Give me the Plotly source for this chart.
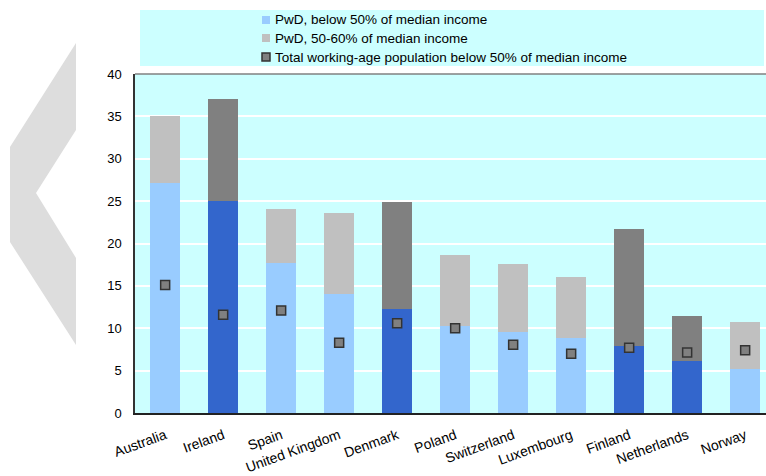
import plotly.graph_objects as go

# Poverty rates (%) of people with disability (PwD) and of the working-age population
countries = ["Australia", "Ireland", "Spain", "United Kingdom", "Denmark", "Poland",
             "Switzerland", "Luxembourg", "Finland", "Netherlands", "Norway"]
pwd_below_50 = [27.1, 25.0, 17.7, 14.0, 12.3, 10.3, 9.5, 8.9, 7.9, 6.1, 5.2]
pwd_50_60 = [7.9, 12.0, 6.4, 9.6, 12.6, 8.4, 8.1, 7.1, 13.8, 5.4, 5.5]
total_below_50 = [15.1, 11.6, 12.1, 8.3, 10.6, 10.0, 8.05, 7.0, 7.7, 7.15, 7.4]
highlighted = ["Ireland", "Denmark", "Finland", "Netherlands"]

LIGHT_BLUE, DARK_BLUE = "#99CCFF", "#3366CC"
LIGHT_GREY, DARK_GREY = "#C0C0C0", "#808080"
CYAN = "#CCFFFF"
FONT = "Liberation Sans, Arial, sans-serif"

W, H = 766, 476
L, R, T, B = 135, 0, 74, 63
PW, PH = W - L - R, H - T - B
SLOT = 58  # pixel width of one category slot


def px(x):
    return (x - L) / PW


def py(y):
    return (H - B - y) / PH


blue_colors = [DARK_BLUE if c in highlighted else LIGHT_BLUE for c in countries]
grey_colors = [DARK_GREY if c in highlighted else LIGHT_GREY for c in countries]

fig = go.Figure()
fig.add_trace(go.Bar(x=countries, y=pwd_below_50, marker=dict(color=blue_colors, line_width=0),
                     name="PwD, below 50% of median income"))
fig.add_trace(go.Bar(x=countries, y=pwd_50_60, marker=dict(color=grey_colors, line_width=0),
                     name="PwD, 50-60% of median income"))
fig.add_trace(go.Scatter(x=countries, y=total_below_50, mode="markers",
                         marker=dict(symbol="square", size=9, color=DARK_GREY,
                                     line=dict(color="#333333", width=1.5)),
                         name="Total working-age population below 50% of median income"))

shapes = []
# decorative chevron at the left edge
chevron = [(76, 43), (10, 147), (10, 242), (76, 345), (76, 258), (36, 193), (76, 130)]
path = "M " + " L ".join(f"{px(x):.5f},{py(y):.5f}" for x, y in chevron) + " Z"
shapes.append(dict(type="path", xref="paper", yref="paper", path=path,
                   fillcolor="#DDDDDD", line_width=0, layer="below"))
# legend panel
shapes.append(dict(type="rect", xref="paper", yref="paper", x0=px(140), x1=px(764),
                   y0=py(66), y1=py(10), fillcolor=CYAN, line_width=0))
# top border of the plot area
shapes.append(dict(type="line", xref="paper", yref="paper", x0=0, x1=1, y0=1, y1=1,
                   line=dict(color="#808080", width=1.5)))

legend_rows = [
    ("PwD, below 50% of median income", LIGHT_BLUE, None, 20),
    ("PwD, 50-60% of median income", LIGHT_GREY, None, 38),
    ("Total working-age population below 50% of median income", DARK_GREY, "#333333", 57),
]
annotations = []
for text, fill, edge, yc in legend_rows:
    shapes.append(dict(type="rect", xref="paper", yref="paper",
                       x0=px(262), x1=px(270), y0=py(yc + 4), y1=py(yc - 4),
                       fillcolor=fill,
                       line=dict(color=edge, width=1.5) if edge else dict(width=0)))
    annotations.append(dict(xref="paper", yref="paper", x=px(273), y=py(yc),
                            xanchor="left", yanchor="middle", text=text, showarrow=False,
                            font=dict(family=FONT, size=13.5, color="#000000")))

x_start = -0.52
fig.update_layout(
    width=W, height=H,
    margin=dict(l=L, r=R, t=T, b=B, pad=0),
    paper_bgcolor="white", plot_bgcolor=CYAN,
    barmode="stack", bargap=0.483,
    showlegend=False,
    shapes=shapes, annotations=annotations,
    font=dict(family=FONT, size=13, color="#000000"),
)
fig.update_xaxes(range=[x_start, x_start + PW / SLOT], showgrid=False, tickangle=-20,
                 ticks="outside", ticklen=7, tickcolor="rgba(0,0,0,0)", showline=True,
                 linecolor="#222222", linewidth=2, tickfont=dict(size=14))
fig.update_yaxes(range=[0, 40], dtick=5, showgrid=True, gridcolor="white", gridwidth=1.5,
                 showline=True, linecolor="#333333", linewidth=1.5, zeroline=False,
                 ticks="outside", ticklen=9, tickcolor="rgba(0,0,0,0)")

fig.write_html("out.html")
